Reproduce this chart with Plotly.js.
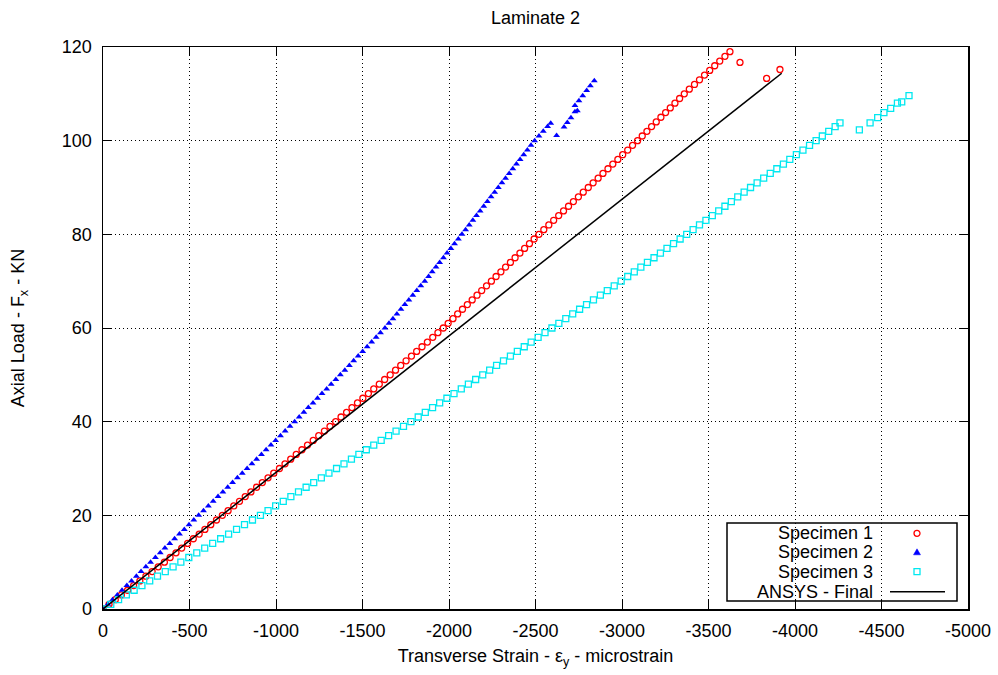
<!DOCTYPE html>
<html>
<head>
<meta charset="utf-8">
<script src="https://cdn.plot.ly/plotly-3.0.1.min.js"></script>
<style>html,body{margin:0;padding:0;background:#fff;}#chart{width:998px;height:675px;}</style>
</head>
<body>
<div id="chart"></div>
<script>
// Specimen 1 (red circles)
const load1 = [0,1,2,3,4,5,6,7,8,9,10,11,12,13,14,15,16,17,18,19,20,21,22,23,24,25,26,27,28,29,30,31,32,33,34,35,36,37,38,39,40,41,42,43,44,45,46,47,48,49,50,51,52,53,54,55,56,57,58,59,60,61,62,63,64,65,66,67,68,69,70,71,72,73,74,75,76,77,78,79,80,81,82,83,84,85,86,87,88,89,90,91,92,93,94,95,96,97,98,99,100,101,102,103,104,105,106,107,108,109,110,111,112,113,114,115,116,117,118,119,116.7,113.3,115.2];
const strain1 = [0,-35,-71,-106,-142,-177,-213,-248,-284,-319,-355,-388,-422,-455,-489,-522,-556,-589,-623,-656,-690,-723,-756,-789,-822,-855,-888,-921,-954,-987,-1020,-1052,-1085,-1117,-1150,-1182,-1215,-1247,-1280,-1312,-1345,-1376,-1408,-1439,-1471,-1502,-1534,-1565,-1597,-1628,-1660,-1691,-1721,-1752,-1783,-1813,-1844,-1875,-1906,-1936,-1967,-1995,-2023,-2050,-2078,-2106,-2134,-2162,-2189,-2217,-2245,-2272,-2300,-2327,-2355,-2382,-2410,-2437,-2465,-2492,-2520,-2548,-2577,-2605,-2634,-2662,-2691,-2719,-2748,-2776,-2805,-2833,-2862,-2890,-2919,-2947,-2976,-3004,-3033,-3061,-3090,-3117,-3144,-3171,-3198,-3225,-3252,-3279,-3306,-3333,-3360,-3389,-3419,-3448,-3477,-3507,-3536,-3565,-3595,-3624,-3682,-3836,-3913];

// Specimen 2 (blue triangles)
const load2 = [0,1,2,3,4,5,6,7,8,9,10,11,12,13,14,15,16,17,18,19,20,21,22,23,24,25,26,27,28,29,30,31,32,33,34,35,36,37,38,39,40,41,42,43,44,45,46,47,48,49,50,51,52,53,54,55,56,57,58,59,60,61,62,63,64,65,66,67,68,69,70,71,72,73,74,75,76,77,78,79,80,81,82,83,84,85,86,87,88,89,90,91,92,93,94,95,96,97,98,99,100,101,102,103,103.7,101.1,102.9,103.9,104.9,106.2,106.4,107.5,108.5,109.6,110.7,111.7,112.8];
const strain2 = [0,-28,-55,-83,-110,-138,-165,-193,-220,-248,-275,-303,-331,-358,-386,-414,-442,-470,-497,-525,-553,-581,-609,-637,-665,-693,-721,-749,-777,-805,-833,-861,-888,-916,-943,-971,-998,-1026,-1053,-1081,-1108,-1134,-1161,-1187,-1214,-1240,-1266,-1293,-1319,-1346,-1372,-1398,-1424,-1449,-1475,-1501,-1527,-1553,-1579,-1604,-1630,-1653,-1676,-1699,-1722,-1745,-1768,-1791,-1814,-1837,-1860,-1882,-1903,-1925,-1946,-1968,-1989,-2011,-2032,-2054,-2075,-2096,-2117,-2138,-2159,-2180,-2201,-2222,-2243,-2264,-2285,-2306,-2327,-2348,-2369,-2390,-2411,-2432,-2453,-2474,-2495,-2520,-2545,-2570,-2588,-2622,-2665,-2684,-2705,-2728,-2742,-2728,-2751,-2773,-2796,-2817,-2840];

// Specimen 3 (cyan squares)
const load3 = [0,1,2,3,4,5,6,7,8,9,10,11,12,13,14,15,16,17,18,19,20,21,22,23,24,25,26,27,28,29,30,31,32,33,34,35,36,37,38,39,40,41,42,43,44,45,46,47,48,49,50,51,52,53,54,55,56,57,58,59,60,61,62,63,64,65,66,67,68,69,70,71,72,73,74,75,76,77,78,79,80,81,82,83,84,85,86,87,88,89,90,91,92,93,94,95,96,97,98,99,100,101,102,103,103.8,102.3,103.8,104.9,106.0,106.9,108.0,108.3,109.6];
const strain3 = [0,-45,-90,-135,-180,-225,-270,-315,-360,-405,-450,-496,-542,-588,-634,-680,-726,-772,-818,-864,-910,-954,-998,-1042,-1086,-1130,-1174,-1218,-1262,-1306,-1350,-1393,-1436,-1479,-1522,-1565,-1608,-1651,-1694,-1737,-1780,-1822,-1863,-1905,-1946,-1988,-2029,-2071,-2112,-2154,-2195,-2235,-2275,-2315,-2355,-2395,-2435,-2475,-2515,-2555,-2595,-2635,-2675,-2715,-2755,-2795,-2835,-2875,-2915,-2955,-2995,-3033,-3071,-3109,-3147,-3185,-3222,-3260,-3298,-3336,-3374,-3411,-3448,-3485,-3522,-3559,-3595,-3632,-3669,-3706,-3743,-3781,-3819,-3857,-3895,-3933,-3970,-4008,-4046,-4084,-4122,-4158,-4195,-4232,-4260,-4372,-4434,-4478,-4514,-4553,-4592,-4617,-4659];

// ANSYS - Final (black line)
const loadAnsys = [0, 114.4];
const strainAnsys = [0, -3923];

const xTickVals = [0,-500,-1000,-1500,-2000,-2500,-3000,-3500,-4000,-4500,-5000];
const xTickText = ['0','-500','-1000','-1500','-2000','-2500','-3000','-3500','-4000','-4500','-5000'];
const yTickVals = [0,20,40,60,80,100,120];
const yTickText = ['0','20','40','60','80','100','120'];
const seriesNames = ['Specimen 1','Specimen 2','Specimen 3','ANSYS - Final'];

const FONT = 'Liberation Sans, Arial, sans-serif';
const RED = '#ff0000', BLUE = '#0000ff', CYAN = '#00e8f0', BLACK = '#000000';

const traces = [
  {x: strain1, y: load1, type: 'scatter', mode: 'markers', showlegend: false, hoverinfo: 'skip',
   marker: {symbol: 'circle-open', size: 6, color: RED, line: {width: 1.3, color: RED}}},
  {x: strain2, y: load2, type: 'scatter', mode: 'markers', showlegend: false, hoverinfo: 'skip',
   marker: {symbol: 'triangle-up', size: 6, color: BLUE, line: {width: 0}}},
  {x: strain3, y: load3, type: 'scatter', mode: 'markers', showlegend: false, hoverinfo: 'skip',
   marker: {symbol: 'square-open', size: 6, color: CYAN, line: {width: 1.3, color: CYAN}}},
  {x: strainAnsys, y: loadAnsys, type: 'scatter', mode: 'lines', showlegend: false, hoverinfo: 'skip',
   line: {color: BLACK, width: 1.5}}
];

const L = 103, R = 968, T = 47, B = 609;
const px = v => (v - L) / (R - L);
const py = v => (B - v) / (B - T);

// legend (gnuplot style: text right-aligned, sample to the right)
const legendRows = [533.3, 552.3, 571.7, 591.7];
const sampleX = 917;
const annotations = seriesNames.map((s, i) => ({
  text: s, xref: 'paper', yref: 'paper', x: px(875), y: py(legendRows[i]),
  xanchor: 'right', yanchor: 'middle', showarrow: false,
  font: {family: FONT, size: 18, color: '#000'}
}));

const pixShape = (o) => Object.assign({
  xref: 'paper', yref: 'paper', xsizemode: 'pixel', ysizemode: 'pixel', layer: 'above'
}, o);

const shapes = [
  {type: 'rect', xref: 'paper', yref: 'paper',
   x0: px(727), x1: px(957), y0: py(601), y1: py(523),
   line: {color: '#000', width: 1.5}, fillcolor: 'rgba(0,0,0,0)', layer: 'above'},
  pixShape({type: 'circle', xanchor: px(sampleX), yanchor: py(legendRows[0]),
   x0: -3, x1: 3, y0: -3, y1: 3, line: {color: RED, width: 1.3}, fillcolor: 'rgba(0,0,0,0)'}),
  pixShape({type: 'path', xanchor: px(sampleX), yanchor: py(legendRows[1]),
   path: 'M-3.5,-2.5 L3.5,-2.5 L0,3.5 Z', line: {color: BLUE, width: 0.5}, fillcolor: BLUE}),
  pixShape({type: 'rect', xanchor: px(sampleX), yanchor: py(legendRows[2]),
   x0: -3, x1: 3, y0: -3, y1: 3, line: {color: CYAN, width: 1.3}, fillcolor: 'rgba(0,0,0,0)'}),
  {type: 'line', xref: 'paper', yref: 'paper', x0: px(890), x1: px(945),
   y0: py(legendRows[3]), y1: py(legendRows[3]), line: {color: BLACK, width: 1.5}, layer: 'above'}
];

const gridDash = '1px,3px';
const layout = {
  width: 998, height: 675,
  margin: {l: L, r: 998 - R, t: T, b: 675 - B},
  paper_bgcolor: '#fff', plot_bgcolor: '#fff',
  font: {family: FONT, size: 18, color: '#000'},
  title: {text: 'Laminate 2', x: 0.5, xref: 'paper', y: 1 - 18/675, yanchor: 'middle',
          font: {family: FONT, size: 18, color: '#000'}},
  xaxis: {
    range: [0, -5000], tickvals: xTickVals, ticktext: xTickText,
    ticks: 'inside', ticklen: 9, tickwidth: 1, tickcolor: '#000', ticklabelstandoff: 5,
    showline: true, linecolor: '#000', linewidth: 1.5, mirror: 'ticks',
    showgrid: true, gridcolor: '#000', gridwidth: 1, griddash: gridDash,
    zeroline: false, tickfont: {family: FONT, size: 18, color: '#000'},
    title: {text: 'Transverse Strain - ε<sub>y</sub> - microstrain', standoff: 9,
            font: {family: FONT, size: 18, color: '#000'}}
  },
  yaxis: {
    range: [0, 120], tickvals: yTickVals, ticktext: yTickText,
    ticks: 'inside', ticklen: 9, tickwidth: 1, tickcolor: '#000', ticklabelstandoff: 6,
    showline: true, linecolor: '#000', linewidth: 1.5, mirror: 'ticks',
    showgrid: true, gridcolor: '#000', gridwidth: 1, griddash: gridDash,
    zeroline: false, tickfont: {family: FONT, size: 18, color: '#000'},
    title: {text: 'Axial Load - F<sub>x</sub> - KN', standoff: 32,
            font: {family: FONT, size: 18, color: '#000'}}
  },
  showlegend: false,
  shapes: shapes,
  annotations: annotations
};

Plotly.newPlot('chart', traces, layout, {displayModeBar: false, staticPlot: true});
</script>
</body>
</html>
